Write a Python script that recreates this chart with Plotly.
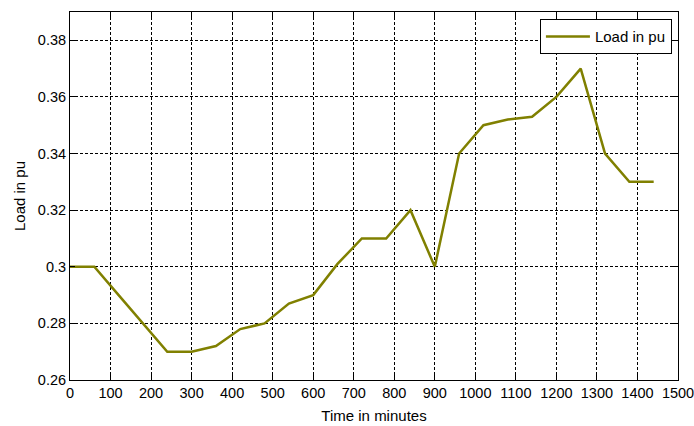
import plotly.graph_objects as go

# Hourly load profile over one day
minutes = [0, 60, 120, 180, 240, 300, 360, 420, 480, 540, 600, 660, 720,
           780, 840, 900, 960, 1020, 1080, 1140, 1200, 1260, 1320, 1380, 1440]
load_pu = [0.30, 0.30, 0.29, 0.28, 0.27, 0.27, 0.272, 0.278, 0.28, 0.287, 0.29, 0.301, 0.31,
           0.31, 0.32, 0.30, 0.34, 0.35, 0.352, 0.353, 0.36, 0.37, 0.34, 0.33, 0.33]

x_ticks = list(range(0, 1501, 100))
y_ticks = [0.26, 0.28, 0.30, 0.32, 0.34, 0.36, 0.38]
y_tick_text = ["0.26", "0.28", "0.3", "0.32", "0.34", "0.36", "0.38"]

FONT = "Liberation Sans, Arial, sans-serif"

fig = go.Figure()
fig.add_trace(go.Scatter(
    x=minutes, y=load_pu, mode="lines", name="Load in pu",
    line=dict(color="#808000", width=2.5),
))

axis_common = dict(
    showline=True, linecolor="#000000", linewidth=1, mirror="ticks",
    ticks="inside", ticklen=5, tickcolor="#000000",
    showgrid=True, gridcolor="#000000", gridwidth=1, griddash="3px,2px",
    zeroline=False, automargin=False, ticklabeloverflow="allow",
    tickfont=dict(family=FONT, size=14.5, color="#000000"),
)

fig.update_xaxes(
    range=[0, 1500], tickvals=x_ticks,
    title=dict(text="Time in minutes", font=dict(family=FONT, size=15, color="#000000"), standoff=10),
    **axis_common,
)
fig.update_yaxes(
    range=[0.26, 0.39], tickvals=y_ticks, ticktext=y_tick_text,
    title=dict(text="Load in pu", font=dict(family=FONT, size=15, color="#000000"), standoff=8),
    **axis_common,
)

fig.update_layout(
    width=694, height=426,
    margin=dict(l=70, r=16, t=12, b=46),
    paper_bgcolor="#ffffff", plot_bgcolor="#ffffff",
    showlegend=True,
    legend=dict(
        x=0.99, y=0.98, xanchor="right", yanchor="top",
        bgcolor="#ffffff", bordercolor="#000000", borderwidth=1,
        font=dict(family=FONT, size=15, color="#000000"),
        itemwidth=44,
    ),
)

fig.write_html("out.html")
